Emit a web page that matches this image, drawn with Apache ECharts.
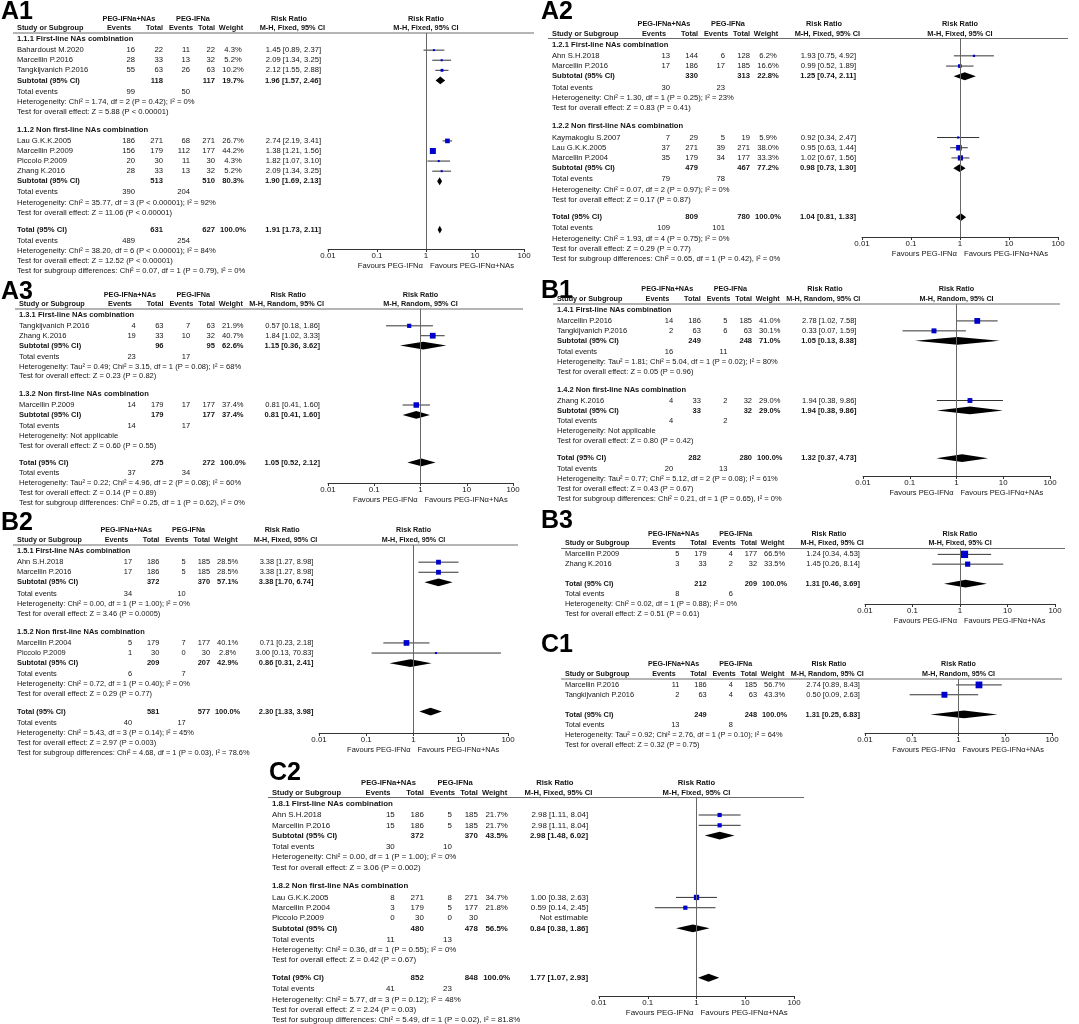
<!DOCTYPE html>
<html><head><meta charset="utf-8">
<script src="https://cdn.jsdelivr.net/npm/echarts@6/dist/echarts.min.js"></script>
<style>html,body{margin:0;padding:0;background:#fff}#c{width:1079px;height:1024px}</style>
</head><body><div id="c"></div>
<script>
// ---------- DATA ----------
// study row: ['study', name, eventsPEG+NAs, totalPEG+NAs, eventsPEG, totalPEG, weight%, RR, lower, upper]
// subtotal/total row: ['sub'|'total', totalPEG+NAs, totalPEG, weight%, RR, lower, upper]
// events row: ['ev', eventsPEG+NAs, eventsPEG]
const A1_rows = [
  ['group', '1.1.1 First-line NAs combination'],
  ['study', 'Bahardoust M.2020', 16, 22, 11, 22, 4.3, 1.45, 0.89, 2.37],
  ['study', 'Marcellin P.2016', 28, 33, 13, 32, 5.2, 2.09, 1.34, 3.25],
  ['study', 'Tangkijvanich P.2016', 55, 63, 26, 63, 10.2, 2.12, 1.55, 2.88],
  ['sub', 118, 117, 19.7, 1.96, 1.57, 2.46],
  ['ev', 99, 50],
  ['het', 'Heterogeneity: Chi² = 1.74, df = 2 (P = 0.42); I² = 0%'],
  ['test', 'Test for overall effect: Z = 5.88 (P < 0.00001)'],
  ['group', '1.1.2 Non first-line NAs combination'],
  ['study', 'Lau G.K.K.2005', 186, 271, 68, 271, 26.7, 2.74, 2.19, 3.41],
  ['study', 'Marcellin P.2009', 156, 179, 112, 177, 44.2, 1.38, 1.21, 1.56],
  ['study', 'Piccolo P.2009', 20, 30, 11, 30, 4.3, 1.82, 1.07, 3.10],
  ['study', 'Zhang K.2016', 28, 33, 13, 32, 5.2, 2.09, 1.34, 3.25],
  ['sub', 513, 510, 80.3, 1.90, 1.69, 2.13],
  ['ev', 390, 204],
  ['het', 'Heterogeneity: Chi² = 35.77, df = 3 (P < 0.00001); I² = 92%'],
  ['test', 'Test for overall effect: Z = 11.06 (P < 0.00001)'],
  ['total', 631, 627, 100.0, 1.91, 1.73, 2.11],
  ['ev', 489, 254],
  ['het', 'Heterogeneity: Chi² = 38.20, df = 6 (P < 0.00001); I² = 84%'],
  ['test', 'Test for overall effect: Z = 12.52 (P < 0.00001)'],
  ['sg', 'Test for subgroup differences: Chi² = 0.07, df = 1 (P = 0.79), I² = 0%']
];
const A2_rows = [
  ['group', '1.2.1 First-line NAs combination'],
  ['study', 'Ahn S.H.2018', 13, 144, 6, 128, 6.2, 1.93, 0.75, 4.92],
  ['study', 'Marcellin P.2016', 17, 186, 17, 185, 16.6, 0.99, 0.52, 1.89],
  ['sub', 330, 313, 22.8, 1.25, 0.74, 2.11],
  ['ev', 30, 23],
  ['het', 'Heterogeneity: Chi² = 1.30, df = 1 (P = 0.25); I² = 23%'],
  ['test', 'Test for overall effect: Z = 0.83 (P = 0.41)'],
  ['group', '1.2.2 Non first-line NAs combination'],
  ['study', 'Kaymakoglu S.2007', 7, 29, 5, 19, 5.9, 0.92, 0.34, 2.47],
  ['study', 'Lau G.K.K.2005', 37, 271, 39, 271, 38.0, 0.95, 0.63, 1.44],
  ['study', 'Marcellin P.2004', 35, 179, 34, 177, 33.3, 1.02, 0.67, 1.56],
  ['sub', 479, 467, 77.2, 0.98, 0.73, 1.30],
  ['ev', 79, 78],
  ['het', 'Heterogeneity: Chi² = 0.07, df = 2 (P = 0.97); I² = 0%'],
  ['test', 'Test for overall effect: Z = 0.17 (P = 0.87)'],
  ['total', 809, 780, 100.0, 1.04, 0.81, 1.33],
  ['ev', 109, 101],
  ['het', 'Heterogeneity: Chi² = 1.93, df = 4 (P = 0.75); I² = 0%'],
  ['test', 'Test for overall effect: Z = 0.29 (P = 0.77)'],
  ['sg', 'Test for subgroup differences: Chi² = 0.65, df = 1 (P = 0.42), I² = 0%']
];
const A3_rows = [
  ['group', '1.3.1 First-line NAs combination'],
  ['study', 'Tangkijvanich P.2016', 4, 63, 7, 63, 21.9, 0.57, 0.18, 1.86],
  ['study', 'Zhang K.2016', 19, 33, 10, 32, 40.7, 1.84, 1.02, 3.33],
  ['sub', 96, 95, 62.6, 1.15, 0.36, 3.62],
  ['ev', 23, 17],
  ['het', 'Heterogeneity: Tau² = 0.49; Chi² = 3.15, df = 1 (P = 0.08); I² = 68%'],
  ['test', 'Test for overall effect: Z = 0.23 (P = 0.82)'],
  ['group', '1.3.2 Non first-line NAs combination'],
  ['study', 'Marcellin P.2009', 14, 179, 17, 177, 37.4, 0.81, 0.41, 1.60],
  ['sub', 179, 177, 37.4, 0.81, 0.41, 1.60],
  ['ev', 14, 17],
  ['het', 'Heterogeneity: Not applicable'],
  ['test', 'Test for overall effect: Z = 0.60 (P = 0.55)'],
  ['total', 275, 272, 100.0, 1.05, 0.52, 2.12],
  ['ev', 37, 34],
  ['het', 'Heterogeneity: Tau² = 0.22; Chi² = 4.96, df = 2 (P = 0.08); I² = 60%'],
  ['test', 'Test for overall effect: Z = 0.14 (P = 0.89)'],
  ['sg', 'Test for subgroup differences: Chi² = 0.25, df = 1 (P = 0.62), I² = 0%']
];
const B1_rows = [
  ['group', '1.4.1 First-line NAs combination'],
  ['study', 'Marcellin P.2016', 14, 186, 5, 185, 41.0, 2.78, 1.02, 7.58],
  ['study', 'Tangkijvanich P.2016', 2, 63, 6, 63, 30.1, 0.33, 0.07, 1.59],
  ['sub', 249, 248, 71.0, 1.05, 0.13, 8.38],
  ['ev', 16, 11],
  ['het', 'Heterogeneity: Tau² = 1.81; Chi² = 5.04, df = 1 (P = 0.02); I² = 80%'],
  ['test', 'Test for overall effect: Z = 0.05 (P = 0.96)'],
  ['group', '1.4.2 Non first-line NAs combination'],
  ['study', 'Zhang K.2016', 4, 33, 2, 32, 29.0, 1.94, 0.38, 9.86],
  ['sub', 33, 32, 29.0, 1.94, 0.38, 9.86],
  ['ev', 4, 2],
  ['het', 'Heterogeneity: Not applicable'],
  ['test', 'Test for overall effect: Z = 0.80 (P = 0.42)'],
  ['total', 282, 280, 100.0, 1.32, 0.37, 4.73],
  ['ev', 20, 13],
  ['het', 'Heterogeneity: Tau² = 0.77; Chi² = 5.12, df = 2 (P = 0.08); I² = 61%'],
  ['test', 'Test for overall effect: Z = 0.43 (P = 0.67)'],
  ['sg', 'Test for subgroup differences: Chi² = 0.21, df = 1 (P = 0.65), I² = 0%']
];
const B2_rows = [
  ['group', '1.5.1 First-line NAs combination'],
  ['study', 'Ahn S.H.2018', 17, 186, 5, 185, 28.5, 3.38, 1.27, 8.98],
  ['study', 'Marcellin P.2016', 17, 186, 5, 185, 28.5, 3.38, 1.27, 8.98],
  ['sub', 372, 370, 57.1, 3.38, 1.70, 6.74],
  ['ev', 34, 10],
  ['het', 'Heterogeneity: Chi² = 0.00, df = 1 (P = 1.00); I² = 0%'],
  ['test', 'Test for overall effect: Z = 3.46 (P = 0.0005)'],
  ['group', '1.5.2 Non first-line NAs combination'],
  ['study', 'Marcellin P.2004', 5, 179, 7, 177, 40.1, 0.71, 0.23, 2.18],
  ['study', 'Piccolo P.2009', 1, 30, 0, 30, 2.8, 3.00, 0.13, 70.83],
  ['sub', 209, 207, 42.9, 0.86, 0.31, 2.41],
  ['ev', 6, 7],
  ['het', 'Heterogeneity: Chi² = 0.72, df = 1 (P = 0.40); I² = 0%'],
  ['test', 'Test for overall effect: Z = 0.29 (P = 0.77)'],
  ['total', 581, 577, 100.0, 2.30, 1.33, 3.98],
  ['ev', 40, 17],
  ['het', 'Heterogeneity: Chi² = 5.43, df = 3 (P = 0.14); I² = 45%'],
  ['test', 'Test for overall effect: Z = 2.97 (P = 0.003)'],
  ['sg', 'Test for subgroup differences: Chi² = 4.68, df = 1 (P = 0.03), I² = 78.6%']
];
const B3_rows = [
  ['study', 'Marcellin P.2009', 5, 179, 4, 177, 66.5, 1.24, 0.34, 4.53],
  ['study', 'Zhang K.2016', 3, 33, 2, 32, 33.5, 1.45, 0.26, 8.14],
  ['total', 212, 209, 100.0, 1.31, 0.46, 3.69],
  ['ev', 8, 6],
  ['het', 'Heterogeneity: Chi² = 0.02, df = 1 (P = 0.88); I² = 0%'],
  ['test', 'Test for overall effect: Z = 0.51 (P = 0.61)']
];
const C1_rows = [
  ['study', 'Marcellin P.2016', 11, 186, 4, 185, 56.7, 2.74, 0.89, 8.43],
  ['study', 'Tangkijvanich P.2016', 2, 63, 4, 63, 43.3, 0.50, 0.09, 2.63],
  ['total', 249, 248, 100.0, 1.31, 0.25, 6.83],
  ['ev', 13, 8],
  ['het', 'Heterogeneity: Tau² = 0.92; Chi² = 2.76, df = 1 (P = 0.10); I² = 64%'],
  ['test', 'Test for overall effect: Z = 0.32 (P = 0.75)']
];
const C2_rows = [
  ['group', '1.8.1 First-line NAs combination'],
  ['study', 'Ahn S.H.2018', 15, 186, 5, 185, 21.7, 2.98, 1.11, 8.04],
  ['study', 'Marcellin P.2016', 15, 186, 5, 185, 21.7, 2.98, 1.11, 8.04],
  ['sub', 372, 370, 43.5, 2.98, 1.48, 6.02],
  ['ev', 30, 10],
  ['het', 'Heterogeneity: Chi² = 0.00, df = 1 (P = 1.00); I² = 0%'],
  ['test', 'Test for overall effect: Z = 3.06 (P = 0.002)'],
  ['group', '1.8.2 Non first-line NAs combination'],
  ['study', 'Lau G.K.K.2005', 8, 271, 8, 271, 34.7, 1.00, 0.38, 2.63],
  ['study', 'Marcellin P.2004', 3, 179, 5, 177, 21.8, 0.59, 0.14, 2.45],
  ['study', 'Piccolo P.2009', 0, 30, 0, 30, null, null, null, null],
  ['sub', 480, 478, 56.5, 0.84, 0.38, 1.86],
  ['ev', 11, 13],
  ['het', 'Heterogeneity: Chi² = 0.36, df = 1 (P = 0.55); I² = 0%'],
  ['test', 'Test for overall effect: Z = 0.42 (P = 0.67)'],
  ['total', 852, 848, 100.0, 1.77, 1.07, 2.93],
  ['ev', 41, 23],
  ['het', 'Heterogeneity: Chi² = 5.77, df = 3 (P = 0.12); I² = 48%'],
  ['test', 'Test for overall effect: Z = 2.24 (P = 0.03)'],
  ['sg', 'Test for subgroup differences: Chi² = 5.49, df = 1 (P = 0.02), I² = 81.8%']
];
const axisTicks = [0.01, 0.1, 1, 10, 100];
const favoursLeft = 'Favours PEG-IFNα';
const favoursRight = 'Favours PEG-IFNα+NAs';

// ---------- LAYOUT ----------
const FF = "'Liberation Sans', Arial, Helvetica, sans-serif";
const TXT = '#141414';
const panels = [
  {name:'A1', rows:A1_rows, method:'Fixed',  lx:1,   ly:12,  X:17,  lineY:33,    lastY:271,  axisY:249, L:328, R:524, hs:1.0},
  {name:'A2', rows:A2_rows, method:'Fixed',  lx:541, ly:12,  X:552, lineY:38.5,  lastY:259,  axisY:237, L:862, R:1058, hs:1.0},
  {name:'A3', rows:A3_rows, method:'Random', lx:1,   ly:292, X:19,  lineY:309,   lastY:503,  axisY:483, L:328, R:513, hs:0.99},
  {name:'B1', rows:B1_rows, method:'Random', lx:541, ly:291, X:557, lineY:304,   lastY:499,  axisY:476, L:863, R:1050, hs:0.985},
  {name:'B2', rows:B2_rows, method:'Fixed',  lx:1,   ly:523, X:17,  lineY:545,   lastY:753,  axisY:733, L:319, R:508, hs:0.975},
  {name:'B3', rows:B3_rows, method:'Fixed',  lx:541, ly:521, X:565, lineY:548.5, lastY:614,  axisY:604, L:865, R:1055, hs:0.97},
  {name:'C1', rows:C1_rows, method:'Random', lx:541, ly:645, X:565, lineY:679,   lastY:745,  axisY:733, L:865, R:1052, hs:0.97},
  {name:'C2', rows:C2_rows, method:'Fixed',  lx:269, ly:773, X:272, lineY:797.5, lastY:1020, axisY:996, L:599, R:794, hs:1.04}
];

function rowOffsets(rows) {
  const out = []; let off = 6; let prev = null;
  rows.forEach((r, i) => {
    const t = r[0];
    if (i > 0) {
      let step = 10;
      if (t === 'group') step = 18;
      else if (t === 'study' && prev === 'group') step = 11;
      else if (t === 'ev') step = 11;
      else if (t === 'total') step = (prev === 'test') ? 17 : 20;
      off += step;
    }
    out.push(off); prev = t;
  });
  return out;
}
const f2 = v => v.toFixed(2);
const rrText = (rr, lo, hi) => rr == null ? 'Not estimable' : f2(rr) + ' [' + f2(lo) + ', ' + f2(hi) + ']';
const wText = w => w == null ? '' : w.toFixed(1) + '%';

function tableRenderer(p, items) {
  return function (params, api) {
    const it = items[api.value(2)];
    const y = api.coord([1, api.value(1)])[1];
    const x1 = api.coord([1, 0])[0];
    const h = p.hs, X = p.X, fs = 7.65 * h, hfs = 7.35 * h;
    const c = o => X + o * h;
    const kids = [];
    const T = (text, x, yy, align, bold, size) => kids.push({
      type: 'text', silent: true,
      style: {text: String(text), x: x, y: yy, align: align || 'left', verticalAlign: 'middle',
              fill: TXT, fontSize: size || fs, fontFamily: FF, fontWeight: bold ? 'bold' : 'normal'}
    });
    const r = it.row;
    const mh = 'M-H, ' + p.method + ', 95% CI';
    if (it.kind === 'header') {
      const y1 = y - 14.5, y2 = y - 5;
      T('PEG-IFNa+NAs', c(112), y1, 'center', true, hfs);
      T('PEG-IFNa', c(176), y1, 'center', true, hfs);
      T('Risk Ratio', c(272), y1, 'center', true, hfs);
      T('Risk Ratio', x1, y1, 'center', true, hfs);
      T('Study or Subgroup', c(0), y2, 'left', true, hfs);
      T('Events', c(114), y2, 'right', true, hfs);
      T('Total', c(146), y2, 'right', true, hfs);
      T('Events', c(176), y2, 'right', true, hfs);
      T('Total', c(198), y2, 'right', true, hfs);
      T('Weight', c(214), y2, 'center', true, hfs);
      T(mh, c(308), y2, 'right', true, hfs);
      T(mh, x1, y2, 'center', true, hfs);
      kids.push({type: 'line', silent: true, shape: {x1: X - 4, y1: y, x2: p.R + 10, y2: y},
                 style: {stroke: '#6b6b6b', lineWidth: 1}});
    } else if (it.kind === 'axis') {
      T(favoursLeft, x1 - 3, y + 17, 'right', false);
      T(favoursRight, x1 + 4, y + 17, 'left', false);
    } else {
      const t = r[0];
      if (t === 'group') T(r[1], c(0), y, 'left', true);
      else if (t === 'het' || t === 'test' || t === 'sg') T(r[1], c(0), y, 'left', false);
      else if (t === 'study') {
        T(r[1], c(0), y, 'left');
        T(r[2], c(118), y, 'right'); T(r[3], c(146), y, 'right');
        T(r[4], c(173), y, 'right'); T(r[5], c(198), y, 'right');
        T(wText(r[6]), c(216), y, 'center');
        T(rrText(r[7], r[8], r[9]), c(304), y, 'right');
      } else if (t === 'sub' || t === 'total') {
        T(t === 'sub' ? 'Subtotal (95% CI)' : 'Total (95% CI)', c(0), y, 'left', true);
        T(r[1], c(146), y, 'right', true); T(r[2], c(198), y, 'right', true);
        T(wText(r[3]), c(216), y, 'center', true);
        T(rrText(r[4], r[5], r[6]), c(304), y, 'right', true);
      } else if (t === 'ev') {
        T('Total events', c(0), y, 'left');
        T(r[1], c(118), y, 'right'); T(r[2], c(173), y, 'right');
      }
    }
    return {type: 'group', children: kids};
  };
}

function markRenderer(params, api) {
  const cs = params.coordSys;
  const cl = v => Math.max(cs.x, Math.min(cs.x + cs.width, v));
  const off = api.value(1);
  const pe = api.coord([api.value(0), off]);
  const pl = cl(api.coord([api.value(2), off])[0]);
  const ph = cl(api.coord([api.value(3), off])[0]);
  const y = pe[1];
  if (api.value(5) === 0) {
    const side = Math.max(2, 0.9 * Math.sqrt(api.value(4)));
    return {type: 'group', children: [
      {type: 'line', shape: {x1: pl, y1: y, x2: ph, y2: y}, style: {stroke: '#333', lineWidth: 1}},
      {type: 'rect', shape: {x: pe[0] - side / 2, y: y - side / 2, width: side, height: side}, style: {fill: '#0000cc'}}
    ]};
  }
  const hh = 3.9;
  return {type: 'polygon', shape: {points: [[pl, y], [pe[0], y - hh], [ph, y], [pe[0], y + hh]]}, style: {fill: '#000'}};
}

const grids = [], xAxes = [], yAxes = [], series = [], graphics = [];
panels.forEach((p, i) => {
  const offs = rowOffsets(p.rows);
  p.s = (p.lastY - p.lineY) / offs[offs.length - 1];
  const yMax = (p.axisY - p.lineY) / p.s;
  grids.push({left: p.L, top: p.lineY, width: p.R - p.L, height: p.axisY - p.lineY, outerBoundsMode: 'none', containLabel: false});
  xAxes.push({
    type: 'log', logBase: 10, gridIndex: i, min: axisTicks[0], max: axisTicks[axisTicks.length - 1],
    axisLine: {onZero: false, lineStyle: {color: '#333', width: 1}},
    axisTick: {show: true, length: 3, lineStyle: {color: '#333'}},
    axisLabel: {fontSize: 7.9, color: TXT, fontFamily: FF, margin: 3,
                formatter: v => String(parseFloat(Number(v).toPrecision(6)))},
    splitLine: {show: false}
  });
  yAxes.push({type: 'value', gridIndex: i, min: 0, max: yMax, inverse: true, show: false});
  const items = [{kind: 'header', off: 0}];
  p.rows.forEach((r, k) => items.push({kind: 'row', row: r, off: offs[k]}));
  items.push({kind: 'axis', off: yMax});
  series.push({
    type: 'custom', name: p.name + ' table', xAxisIndex: i, yAxisIndex: i, clip: false, silent: true,
    data: items.map((it, k) => [1, it.off, k]),
    renderItem: tableRenderer(p, items)
  });
  const marks = [];
  p.rows.forEach((r, k) => {
    if (r[0] === 'study' && r[7] != null) marks.push([r[7], offs[k], r[8], r[9], r[6], 0]);
    if (r[0] === 'sub' || r[0] === 'total') marks.push([r[4], offs[k], r[5], r[6], r[3], 1]);
  });
  series.push({
    type: 'custom', name: p.name + ' marks', xAxisIndex: i, yAxisIndex: i, clip: false, silent: true,
    data: marks, renderItem: markRenderer,
    markLine: {silent: true, symbol: 'none', label: {show: false},
               lineStyle: {color: '#666', width: 1, type: 'solid'}, data: [{xAxis: 1}]}
  });
  graphics.push({type: 'text', x: p.lx, y: p.ly, silent: true,
    style: {text: p.name, fontSize: 25, fontWeight: 'bold', fontFamily: FF, fill: '#000', verticalAlign: 'middle', align: 'left'}});
});

const chart = echarts.init(document.getElementById('c'), null, {renderer: 'canvas'});
chart.setOption({
  backgroundColor: '#fff', animation: false,
  grid: grids, xAxis: xAxes, yAxis: yAxes, series: series, graphic: graphics
});
</script>
</body></html>
